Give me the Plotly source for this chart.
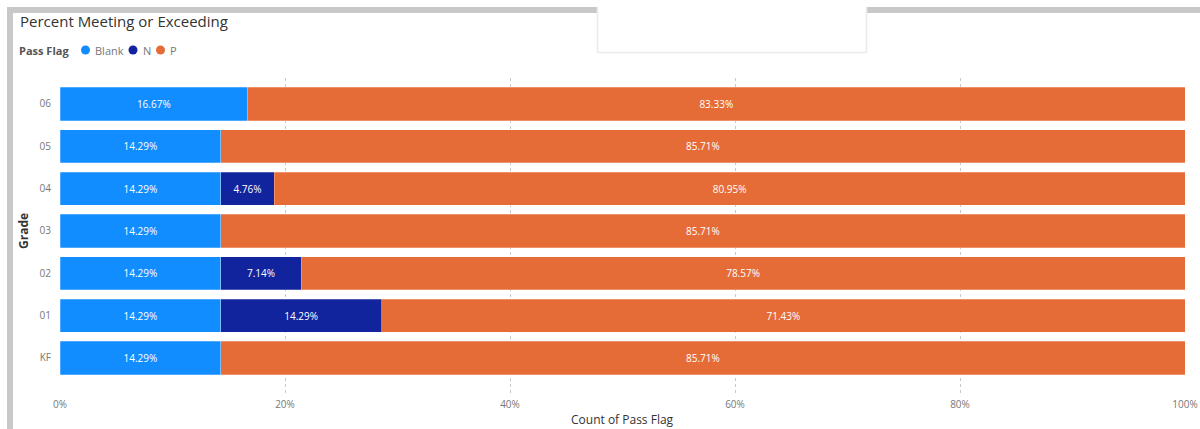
import plotly.graph_objects as go

grades = ["KF", "01", "02", "03", "04", "05", "06"]
blank_pct = [14.29, 14.29, 14.29, 14.29, 14.29, 14.29, 16.67]
n_pct = [None, 14.29, 7.14, None, 4.76, None, None]
p_pct = [85.71, 71.43, 78.57, 85.71, 80.95, 85.71, 83.33]
series_names = ["Blank", "N", "P"]
series_colors = ["#118DFF", "#12239E", "#E66C37"]
x_ticks = [0, 20, 40, 60, 80, 100]

W, H = 1200, 429
L, R, T, B = 60, 15, 78, 36
PW, PH = W - L - R, H - T - B

def fx(x):
    return (x - L) / PW

def fy(y):
    return (H - B - y) / PH

FONT = "Open Sans"

fig = go.Figure()
for name, vals, col in zip(series_names, [blank_pct, n_pct, p_pct], series_colors):
    fig.add_trace(go.Bar(
        y=grades, x=vals, name=name, orientation="h",
        marker=dict(color=col, line=dict(color="rgba(255,255,255,0.5)", width=0.5)),
        width=0.78,
        texttemplate="%{x:.2f}%", textposition="inside", insidetextanchor="middle",
        textfont=dict(color="white", size=10, family=FONT),
        showlegend=False,
    ))

fig.update_layout(
    barmode="stack",
    width=W, height=H,
    autosize=False,
    margin=dict(l=L, r=R, t=T, b=B, autoexpand=False),
    paper_bgcolor="white", plot_bgcolor="white",
    font=dict(family=FONT),
    xaxis=dict(
        range=[0, 100], tickvals=x_ticks, ticktext=[f"{v}%" for v in x_ticks],
        showgrid=True, gridcolor="#C8C8C8", griddash="dot", gridwidth=1,
        zeroline=False, showline=False, automargin=False,
        tickfont=dict(size=10, color="#777777", family=FONT),
        ticklabelstandoff=4,
    ),
    yaxis=dict(
        categoryorder="array", categoryarray=grades,
        range=[-0.827, 6.614],
        showgrid=False, zeroline=False, showline=False, automargin=False,
        tickfont=dict(size=10, color="#777777", family=FONT),
        ticklabelstandoff=8,
    ),
    bargap=0.22,
)

# Frame shapes (report-style border)
gray = "#C8C8C8"
shapes = [
    dict(type="rect", xref="paper", yref="paper", x0=fx(7), x1=fx(13), y0=fy(7), y1=fy(429),
         fillcolor=gray, line=dict(width=0), layer="below"),
    dict(type="rect", xref="paper", yref="paper", x0=fx(7), x1=fx(597), y0=fy(7), y1=fy(13),
         fillcolor=gray, line=dict(width=0), layer="below"),
    dict(type="rect", xref="paper", yref="paper", x0=fx(867), x1=fx(1200), y0=fy(7), y1=fy(13),
         fillcolor=gray, line=dict(width=0), layer="below"),
    dict(type="line", xref="paper", yref="paper", x0=fx(597.5), x1=fx(597.5), y0=fy(7), y1=fy(53),
         line=dict(color="#EAEAEA", width=1.5)),
    dict(type="line", xref="paper", yref="paper", x0=fx(866.5), x1=fx(866.5), y0=fy(7), y1=fy(53),
         line=dict(color="#EAEAEA", width=1.5)),
    dict(type="line", xref="paper", yref="paper", x0=fx(597.5), x1=fx(866.5), y0=fy(52.5), y1=fy(52.5),
         line=dict(color="#EAEAEA", width=1.5)),
]

# Manual legend
legend_cx = [85.5, 133, 160.5]
legend_tx = [93, 141, 168]
ly = 50
r = 4.5
for cx, col in zip(legend_cx, series_colors):
    shapes.append(dict(type="circle", xref="paper", yref="paper",
                       x0=fx(cx - r), x1=fx(cx + r), y0=fy(ly - r), y1=fy(ly + r),
                       fillcolor=col, line=dict(width=0)))
fig.update_layout(shapes=shapes)

ann = [
    dict(text="Percent Meeting or Exceeding", x=fx(18), y=fy(21), xanchor="left", yanchor="middle",
         font=dict(size=15, color="#333333", family=FONT)),
    dict(text="<b>Pass Flag</b>", x=fx(17), y=fy(ly), xanchor="left", yanchor="middle",
         font=dict(size=11, color="#555555", family=FONT)),
    dict(text="<b>Grade</b>", x=fx(23), y=fy(231), xanchor="center", yanchor="middle", textangle=-90,
         font=dict(size=12, color="#333333", family=FONT)),
    dict(text="Count of Pass Flag", x=fx(622), y=fy(419), xanchor="center", yanchor="middle",
         font=dict(size=12, color="#333333", family=FONT)),
]
for name, tx in zip(series_names, legend_tx):
    ann.append(dict(text=name, x=fx(tx), y=fy(ly), xanchor="left", yanchor="middle",
                    font=dict(size=11, color="#777777", family=FONT)))
for a in ann:
    a.update(xref="paper", yref="paper", showarrow=False)
fig.update_layout(annotations=ann)

fig.write_html(
    "out.html",
    config={"displayModeBar": False, "responsive": False},
    post_script="document.body.style.margin='0';document.body.style.padding='0';"
                "document.body.style.overflow='hidden';",
)
